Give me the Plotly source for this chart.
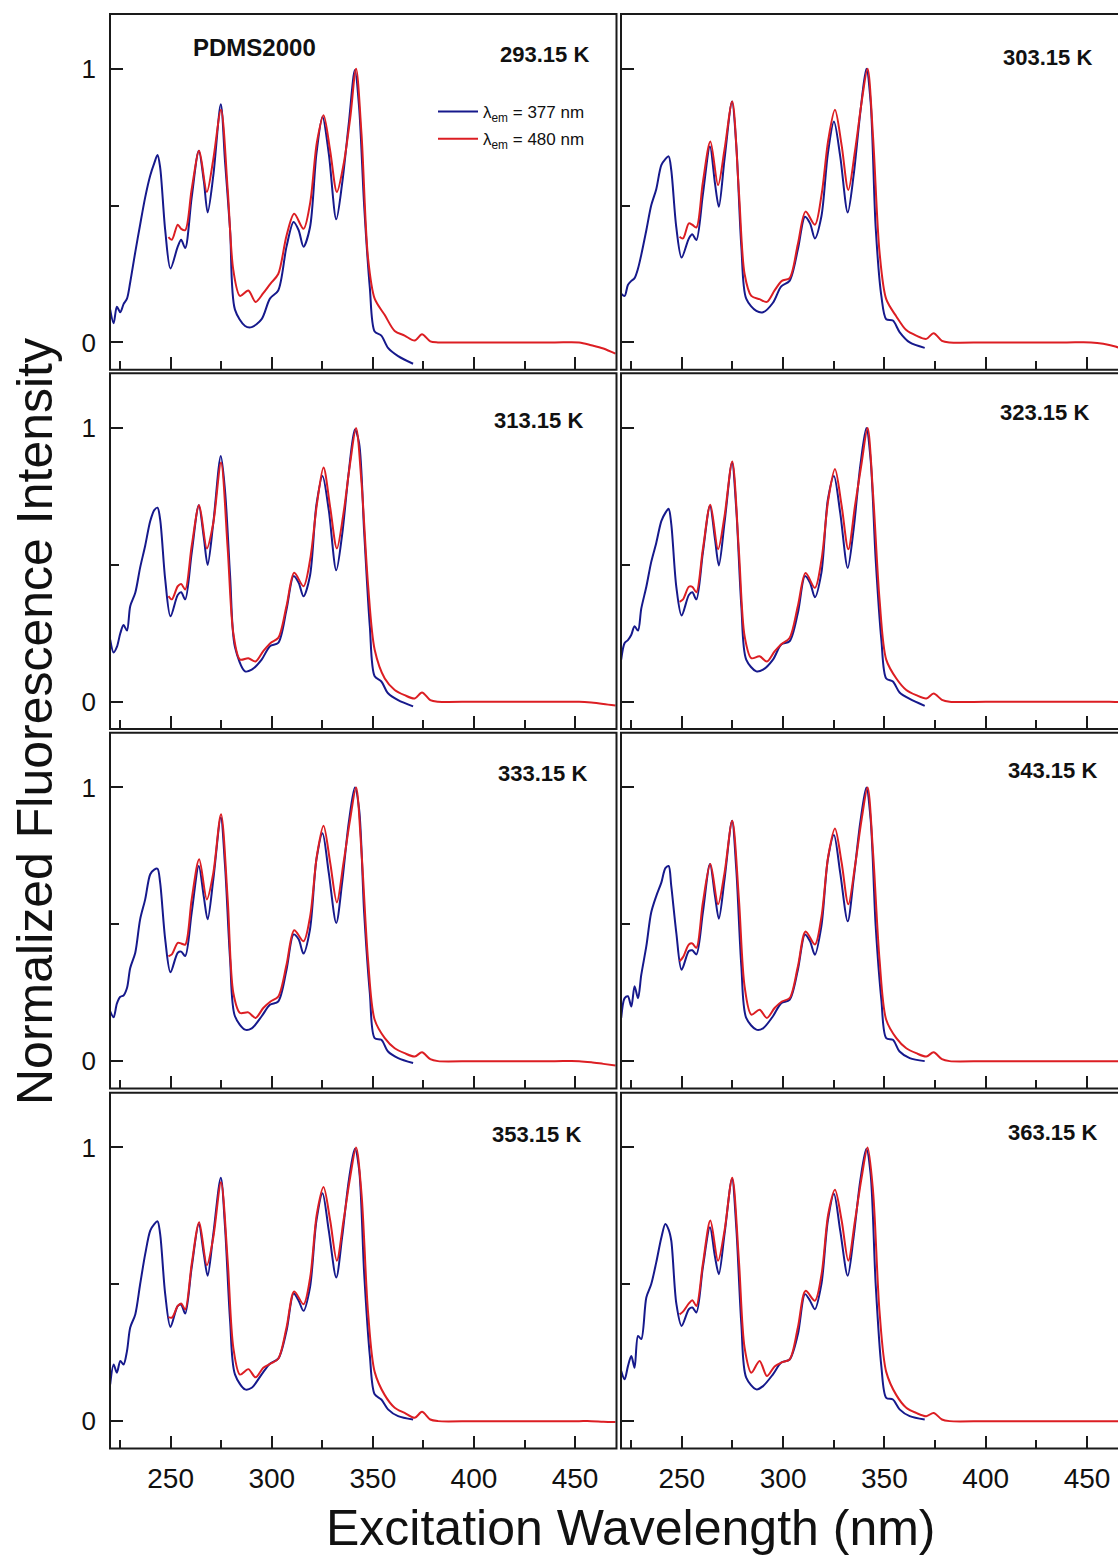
import plotly.graph_objects as go

W, H = 1118, 1558
BLUE = "#16198C"
RED = "#DC1E23"
INK = "#1A1A1A"
FONT = "Liberation Sans, Arial, sans-serif"

# Excitation wavelengths (nm) of the two emission channels
wl_377 = [220.1, 221.8, 223.4, 225.1, 226.7, 228.4, 230.0, 232.5, 234.9, 237.4,
          239.9, 241.9, 243.5, 244.8, 247.3, 249.9, 253.5, 255.2, 257.2, 260.4,
          263.9, 266.4, 268.3, 271.1, 274.8, 276.9, 279.4, 281.8, 286.8, 290.1,
          295.0, 299.1, 303.2, 307.3, 310.8, 313.3, 315.7, 318.9, 322.1, 325.1,
          328.2, 331.9, 334.8, 338.1, 341.1, 343.2, 345.7, 348.5, 350.9, 354.2,
          357.5, 362.5, 369.9]
wl_480 = [248.9, 250.6, 253.5, 255.2, 257.2, 260.4, 264.1, 267.9, 271.1, 274.9,
          278.2, 281.0, 284.3, 288.4, 292.0, 295.8, 299.4, 303.2, 307.3, 311.1,
          315.7, 319.0, 322.3, 325.6, 328.9, 332.2, 335.5, 338.8, 341.7, 344.4,
          347.6, 350.9, 355.9, 360.8, 365.7, 370.7, 374.3, 378.4, 382.2, 400.0,
          420.0, 440.0, 452.0, 458.0, 464.0, 470.0]

temperatures = ["293.15", "303.15", "313.15", "323.15",
                "333.15", "343.15", "353.15", "363.15"]

# Normalized excitation spectra, emission monitored at 377 nm
em377_293 = [0.12, 0.07, 0.13, 0.11, 0.14, 0.16, 0.22, 0.33, 0.43, 0.53,
             0.61, 0.655, 0.685, 0.64, 0.41, 0.27, 0.35, 0.375, 0.345, 0.53,
             0.70, 0.59, 0.475, 0.61, 0.87, 0.66, 0.41, 0.12, 0.06, 0.056,
             0.085, 0.16, 0.19, 0.35, 0.44, 0.41, 0.35, 0.42, 0.69, 0.825,
             0.69, 0.45, 0.58, 0.80, 0.995, 0.86, 0.50, 0.20, 0.04, 0.025,
             -0.02, -0.05, -0.078]
em377_303 = [0.178, 0.17, 0.21, 0.225, 0.235, 0.27, 0.32, 0.41, 0.50, 0.56,
             0.648, 0.67, 0.68, 0.63, 0.42, 0.31, 0.38, 0.395, 0.374, 0.54,
             0.716, 0.58, 0.496, 0.67, 0.88, 0.72, 0.35, 0.16, 0.115, 0.11,
             0.145, 0.205, 0.225, 0.34, 0.459, 0.435, 0.38, 0.46, 0.69, 0.807,
             0.68, 0.475, 0.61, 0.84, 1.0, 0.88, 0.42, 0.17, 0.085, 0.08,
             0.038, 0.0, -0.02]
em377_313 = [0.227, 0.18, 0.20, 0.25, 0.28, 0.26, 0.349, 0.398, 0.49, 0.57,
             0.66, 0.70, 0.709, 0.666, 0.447, 0.312, 0.39, 0.40, 0.374, 0.544,
             0.718, 0.60, 0.50, 0.654, 0.898, 0.77, 0.46, 0.20, 0.111, 0.117,
             0.154, 0.203, 0.215, 0.337, 0.459, 0.435, 0.385, 0.46, 0.72, 0.825,
             0.70, 0.48, 0.61, 0.84, 0.995, 0.945, 0.62, 0.276, 0.093, 0.074,
             0.031, 0.006, -0.017]
em377_323 = [0.154, 0.215, 0.225, 0.245, 0.276, 0.26, 0.34, 0.42, 0.51, 0.58,
             0.66, 0.69, 0.705, 0.65, 0.42, 0.315, 0.39, 0.40, 0.374, 0.544,
             0.716, 0.593, 0.498, 0.654, 0.874, 0.703, 0.349, 0.154, 0.111, 0.117,
             0.154, 0.209, 0.221, 0.325, 0.459, 0.435, 0.382, 0.471, 0.738, 0.825,
             0.69, 0.489, 0.63, 0.862, 1.0, 0.885, 0.52, 0.227, 0.085, 0.074,
             0.034, 0.01, -0.015]
em377_333 = [0.182, 0.16, 0.21, 0.235, 0.24, 0.267, 0.34, 0.396, 0.518, 0.591,
             0.683, 0.70, 0.703, 0.652, 0.445, 0.325, 0.396, 0.40, 0.384, 0.543,
             0.713, 0.60, 0.518, 0.664, 0.89, 0.713, 0.371, 0.164, 0.115, 0.12,
             0.164, 0.206, 0.218, 0.334, 0.463, 0.445, 0.393, 0.481, 0.737, 0.833,
             0.688, 0.505, 0.652, 0.872, 1.0, 0.921, 0.542, 0.249, 0.084, 0.078,
             0.035, 0.011, -0.007]
em377_343 = [0.158, 0.23, 0.237, 0.20, 0.274, 0.23, 0.315, 0.42, 0.543, 0.603,
             0.652, 0.705, 0.713, 0.64, 0.469, 0.334, 0.402, 0.405, 0.39, 0.543,
             0.72, 0.603, 0.52, 0.664, 0.878, 0.701, 0.347, 0.158, 0.115, 0.12,
             0.164, 0.212, 0.224, 0.334, 0.463, 0.438, 0.389, 0.493, 0.737, 0.826,
             0.688, 0.511, 0.664, 0.872, 1.0, 0.885, 0.494, 0.225, 0.084, 0.078,
             0.035, 0.011, 0.0]
em377_353 = [0.134, 0.207, 0.177, 0.22, 0.207, 0.256, 0.342, 0.39, 0.50, 0.61,
             0.696, 0.72, 0.73, 0.684, 0.464, 0.344, 0.421, 0.425, 0.393, 0.562,
             0.72, 0.61, 0.531, 0.684, 0.889, 0.708, 0.366, 0.171, 0.116, 0.122,
             0.171, 0.21, 0.228, 0.33, 0.466, 0.44, 0.403, 0.488, 0.733, 0.833,
             0.696, 0.525, 0.672, 0.879, 0.995, 0.92, 0.54, 0.24, 0.098, 0.079,
             0.043, 0.018, 0.006]
em377_363 = [0.183, 0.153, 0.20, 0.238, 0.195, 0.311, 0.30, 0.452, 0.50, 0.58,
             0.67, 0.72, 0.70, 0.66, 0.43, 0.348, 0.409, 0.415, 0.397, 0.562,
             0.708, 0.60, 0.537, 0.684, 0.886, 0.708, 0.354, 0.159, 0.116, 0.128,
             0.171, 0.214, 0.225, 0.317, 0.464, 0.44, 0.409, 0.50, 0.733, 0.831,
             0.696, 0.531, 0.672, 0.879, 0.995, 0.903, 0.50, 0.20, 0.085, 0.079,
             0.043, 0.018, 0.006]

# Normalized excitation spectra, emission monitored at 480 nm
em480_293 = [0.385, 0.375, 0.43, 0.415, 0.41, 0.56, 0.70, 0.55, 0.67, 0.85,
             0.56, 0.264, 0.17, 0.19, 0.148, 0.18, 0.215, 0.25, 0.39, 0.47,
             0.415, 0.51, 0.73, 0.83, 0.70, 0.55, 0.65, 0.82, 1.0, 0.76,
             0.31, 0.16, 0.10, 0.042, 0.025, 0.007, 0.03, 0.004, 0.0, 0.0,
             0.0, 0.0, 0.0, -0.01, -0.022, -0.041]
em480_303 = [0.386, 0.38, 0.435, 0.43, 0.42, 0.585, 0.734, 0.575, 0.705, 0.88,
             0.55, 0.25, 0.17, 0.158, 0.148, 0.19, 0.225, 0.235, 0.36, 0.478,
             0.43, 0.54, 0.74, 0.85, 0.72, 0.557, 0.70, 0.88, 1.0, 0.75,
             0.33, 0.158, 0.095, 0.045, 0.025, 0.013, 0.034, 0.006, 0.0, 0.0,
             0.0, 0.0, 0.0, -0.005, -0.015, -0.03]
em480_313 = [0.386, 0.374, 0.422, 0.43, 0.41, 0.569, 0.718, 0.56, 0.654, 0.874,
             0.56, 0.25, 0.154, 0.159, 0.147, 0.185, 0.215, 0.233, 0.35, 0.471,
             0.422, 0.52, 0.72, 0.856, 0.71, 0.56, 0.69, 0.874, 1.0, 0.80,
             0.43, 0.19, 0.085, 0.043, 0.024, 0.012, 0.034, 0.006, 0.0, 0.0,
             0.0, 0.0, 0.0, -0.003, -0.008, -0.014]
em480_323 = [0.365, 0.374, 0.42, 0.42, 0.40, 0.557, 0.72, 0.557, 0.678, 0.878,
             0.55, 0.24, 0.159, 0.166, 0.147, 0.184, 0.212, 0.233, 0.35, 0.47,
             0.416, 0.52, 0.738, 0.85, 0.716, 0.557, 0.716, 0.874, 1.0, 0.76,
             0.374, 0.154, 0.085, 0.043, 0.024, 0.012, 0.03, 0.007, 0.0, 0.0,
             0.0, 0.0, 0.0, 0.0, -0.001, -0.002]
em480_333 = [0.383, 0.39, 0.432, 0.43, 0.426, 0.591, 0.738, 0.591, 0.688, 0.902,
             0.591, 0.249, 0.176, 0.178, 0.158, 0.194, 0.218, 0.236, 0.352, 0.478,
             0.438, 0.53, 0.75, 0.86, 0.725, 0.58, 0.725, 0.885, 1.0, 0.762,
             0.371, 0.151, 0.084, 0.047, 0.029, 0.017, 0.032, 0.007, 0.0, 0.0,
             0.0, 0.0, 0.0, -0.004, -0.01, -0.016]
em480_343 = [0.365, 0.38, 0.426, 0.43, 0.414, 0.579, 0.72, 0.573, 0.688, 0.878,
             0.591, 0.273, 0.17, 0.188, 0.158, 0.194, 0.218, 0.23, 0.346, 0.474,
             0.426, 0.53, 0.75, 0.85, 0.725, 0.573, 0.713, 0.885, 1.0, 0.762,
             0.371, 0.151, 0.084, 0.047, 0.029, 0.017, 0.032, 0.007, 0.0, 0.0,
             0.0, 0.0, 0.0, 0.0, 0.0, 0.0]
em480_353 = [0.38, 0.378, 0.421, 0.43, 0.408, 0.574, 0.727, 0.57, 0.672, 0.873,
             0.586, 0.268, 0.17, 0.19, 0.16, 0.195, 0.21, 0.228, 0.342, 0.474,
             0.427, 0.525, 0.757, 0.855, 0.733, 0.586, 0.733, 0.892, 1.0, 0.83,
             0.40, 0.18, 0.095, 0.049, 0.03, 0.012, 0.034, 0.006, 0.0, 0.0,
             0.0, 0.0, 0.0, 0.0, -0.002, -0.003]
em480_363 = [0.39, 0.40, 0.43, 0.442, 0.421, 0.574, 0.733, 0.586, 0.696, 0.889,
             0.586, 0.268, 0.177, 0.22, 0.165, 0.20, 0.215, 0.225, 0.342, 0.476,
             0.44, 0.537, 0.757, 0.845, 0.733, 0.586, 0.733, 0.892, 1.0, 0.84,
             0.40, 0.18, 0.095, 0.049, 0.03, 0.018, 0.03, 0.006, 0.0, 0.0,
             0.0, 0.0, 0.0, 0.0, 0.0, 0.0]

spectra_377 = [em377_293, em377_303, em377_313, em377_323,
               em377_333, em377_343, em377_353, em377_363]
spectra_480 = [em480_293, em480_303, em480_313, em480_323,
               em480_333, em480_343, em480_353, em480_363]

# Panel geometry in pixels (two columns x four rows)
col_px = [(110.0, 616.5), (621.0, 1118.0)]
x_ranges = [[220.0, 470.5], [220.0, 465.3]]
row_top_px = [14.0, 373.3, 732.7, 1092.7]
row_h = 355.8

# Temperature label centres (pixels)
label_px = [(544, 55), (1047, 57), (538, 420), (1044, 412),
            (542, 773), (1052, 770), (536, 1134), (1052, 1132)]


def px_x(x):
    return x / W


def px_y(y):
    return 1 - y / H


fig = go.Figure()
layout_axes = {}
shapes = []
annotations = []

for i, T in enumerate(temperatures):
    row, col = divmod(i, 2)
    n = i + 1
    xname = "xaxis" if n == 1 else f"xaxis{n}"
    yname = "yaxis" if n == 1 else f"yaxis{n}"
    xref = "x" if n == 1 else f"x{n}"
    yref = "y" if n == 1 else f"y{n}"

    fig.add_trace(go.Scatter(
        x=wl_377, y=spectra_377[i], xaxis=xref, yaxis=yref, mode="lines",
        line=dict(color=BLUE, width=2, shape="spline", smoothing=0.85),
        name="λ<sub>em</sub> = 377 nm", legendgroup="377",
        showlegend=(i == 0)))
    fig.add_trace(go.Scatter(
        x=wl_480, y=spectra_480[i], xaxis=xref, yaxis=yref, mode="lines",
        line=dict(color=RED, width=2, shape="spline", smoothing=0.85),
        name="λ<sub>em</sub> = 480 nm", legendgroup="480",
        showlegend=(i == 0)))

    x0, x1 = col_px[col]
    top = row_top_px[row]
    bot = top + row_h

    layout_axes[xname] = dict(
        domain=[px_x(x0), min(px_x(x1), 1.0)], anchor=yref,
        range=x_ranges[col], showgrid=False, zeroline=False, showline=False,
        ticks="inside", ticklen=13, tickwidth=1.6, tickcolor=INK,
        tick0=0, dtick=50,
        minor=dict(ticks="inside", ticklen=9, tickwidth=1.6, tickcolor=INK,
                   tick0=0, dtick=25, showgrid=False),
        showticklabels=(row == 3), ticklabelstandoff=10,
        tickfont=dict(family=FONT, size=28, color="#111111"),
    )
    layout_axes[yname] = dict(
        domain=[px_y(bot), px_y(top)], anchor=xref,
        range=[-0.1, 1.2], showgrid=False, zeroline=False, showline=False,
        ticks="inside", ticklen=13, tickwidth=1.6, tickcolor=INK,
        tick0=0, dtick=1,
        minor=dict(ticks="inside", ticklen=9, tickwidth=1.6, tickcolor=INK,
                   tick0=0, dtick=0.5, showgrid=False),
        showticklabels=(col == 0), ticklabelstandoff=13,
        tickfont=dict(family=FONT, size=26, color="#111111"),
    )

    # Panel frame; the right column runs off the page edge
    right = x1 + (12 if col == 1 else 0)
    shapes.append(dict(
        type="rect", xref="paper", yref="paper",
        x0=px_x(x0), x1=px_x(right), y0=px_y(bot), y1=px_y(top),
        line=dict(color=INK, width=2), fillcolor="rgba(0,0,0,0)", layer="above"))

    lx, ly = label_px[i]
    annotations.append(dict(
        text=f"<b>{T} K</b>", xref="paper", yref="paper",
        x=px_x(lx), y=px_y(ly), xanchor="center", yanchor="middle",
        showarrow=False, font=dict(family=FONT, size=22, color="#111111")))

annotations.append(dict(
    text="<b>PDMS2000</b>", xref="paper", yref="paper",
    x=px_x(254), y=px_y(48), xanchor="center", yanchor="middle",
    showarrow=False, font=dict(family=FONT, size=24, color="#111111")))

annotations.append(dict(
    text="Excitation Wavelength (nm)", xref="paper", yref="paper",
    x=px_x(631), y=px_y(1528), xanchor="center", yanchor="middle",
    showarrow=False, font=dict(family=FONT, size=50, color="#111111")))

annotations.append(dict(
    text="Normalized Fluorescence Intensity", xref="paper", yref="paper",
    x=px_x(35), y=px_y(722), xanchor="center", yanchor="middle",
    textangle=-90, showarrow=False,
    font=dict(family=FONT, size=50, color="#111111")))

fig.update_layout(
    width=W, height=H,
    margin=dict(l=0, r=0, t=0, b=0),
    paper_bgcolor="white", plot_bgcolor="white",
    shapes=shapes, annotations=annotations,
    showlegend=True,
    legend=dict(
        x=px_x(433), y=px_y(94), xanchor="left", yanchor="top",
        bgcolor="rgba(0,0,0,0)", borderwidth=0,
        font=dict(family=FONT, size=17, color="#111111"),
        tracegroupgap=2, itemwidth=40,
    ),
    **layout_axes,
)

fig.write_html("out.html")
